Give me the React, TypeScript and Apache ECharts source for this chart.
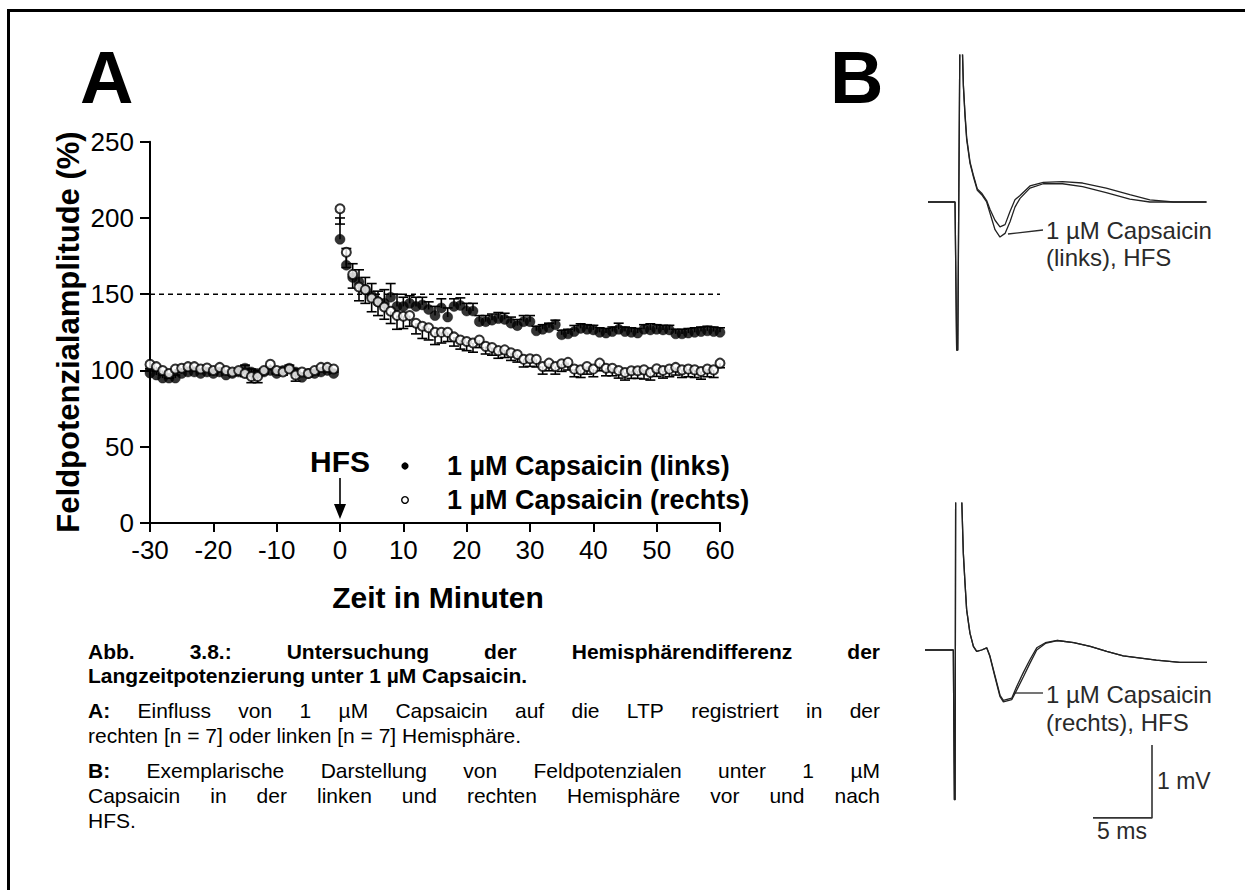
import React, { useEffect, useRef } from "react";
import * as echarts from "echarts";

// ---------------- Panel A data ----------------
const timePre = [-30, -29, -28, -27, -26, -25, -24, -23, -22, -21, -20, -19, -18, -17, -16, -15, -14, -13, -12, -11, -10, -9, -8, -7, -6, -5, -4, -3, -2, -1];
const timePost = [0, 1, 2, 3, 4, 5, 6, 7, 8, 9, 10, 11, 12, 13, 14, 15, 16, 17, 18, 19, 20, 21, 22, 23, 24, 25, 26, 27, 28, 29, 30, 31, 32, 33, 34, 35, 36, 37, 38, 39, 40, 41, 42, 43, 44, 45, 46, 47, 48, 49, 50, 51, 52, 53, 54, 55, 56, 57, 58, 59, 60];

const linksPre = [98.3, 97, 95, 95, 95, 98, 99, 99, 98, 99, 98, 99, 97, 98, 99, 101.5, 99, 98, 99, 100, 98, 100, 101.5, 99, 95.5, 98, 98, 99, 100, 98];
const linksPreErr = [3, 3, 3, 2, 2, 2, 2, 2, 2, 2, 2, 2, 2, 2, 2, 2, 2, 2, 2, 2, 2, 2, 2, 2, 2, 2, 2, 2, 2, 2];
const rechtsPre = [104, 102.5, 100, 98, 101, 101.5, 102.5, 102.5, 101, 101.6, 100, 102, 100, 99, 100, 98, 96, 96, 100, 104, 100, 99, 101, 97, 99, 98, 100, 102, 102, 101];
const rechtsPreErr = [3, 3, 3, 3, 2, 2, 2, 2, 2, 2, 2, 2, 2, 2, 2, 2, 4, 4, 2, 2, 2, 2, 2, 4, 2, 2, 2, 2, 2, 2];

const linksPost = [186, 169, 161, 158, 153, 149, 145, 144, 148, 142, 142, 144, 142, 143, 140, 136, 141, 135, 142, 142.6, 139, 139, 132, 132, 133, 134, 133.5, 131, 129.4, 132, 132, 126, 127, 128, 130, 123.4, 124, 125.5, 127.6, 127, 126.6, 125, 124.5, 125.5, 127, 125.5, 125, 124.5, 127, 126.6, 127, 126.6, 126.6, 124, 124, 124.5, 125, 125.5, 126, 125.5, 125];
const linksPostErr = [14, 11, 9, 8, 8, 8, 7, 9, 9, 8, 6, 5, 6, 5, 5, 6, 6, 6, 5, 5, 5, 5, 4, 4, 4, 4, 4, 4, 4, 4, 4, 3, 3, 3, 3, 3, 3, 4, 3, 3, 3, 3, 3, 3, 4, 3, 3, 3, 3, 4, 3, 3, 3, 3, 3, 3, 3, 3, 3, 3, 3];
const rechtsPost = [206, 177.5, 163, 154.7, 153, 147.5, 145, 141.6, 138.8, 136, 135.5, 136, 131, 129, 128, 125, 125, 125, 122, 120, 119, 118, 120, 115.8, 115, 113, 113.5, 111.6, 110.5, 107.3, 107.7, 107.3, 102.6, 104.8, 102.6, 104.4, 105.3, 100.9, 100.4, 102.6, 100.9, 104.8, 101.5, 101.5, 100, 98.7, 99.8, 99.8, 100.4, 98.7, 101.1, 100, 100.9, 102, 100.4, 100.9, 100.4, 99.3, 100.9, 100.4, 104.8];
const rechtsPostErr = [10, 10, 9, 9, 9, 9, 9, 8, 8, 9, 8, 7, 7, 8, 8, 8, 7, 6, 6, 6, 6, 6, 5, 5, 5, 5, 5, 5, 5, 5, 5, 5, 5, 5, 5, 5, 5, 5, 5, 5, 5, 5, 5, 5, 5, 5, 5, 5, 6, 5, 5, 5, 5, 5, 5, 5, 5, 5, 5, 5, 3];

const thresholdLevel = 150;
const hfsTime = 0;
const xTickLabels = ["-30", "-20", "-10", "0", "10", "20", "30", "40", "50", "60"];
const yTickLabels = ["0", "50", "100", "150", "200", "250"];

// ---------------- Panel B data (ms / mV) ----------------
const topTime = [0, 2.29, 2.43, 2.52, 2.71, 2.86, 3.0, 3.14, 3.28, 3.56, 3.84, 4.18, 4.55, 4.97, 5.25, 5.68, 6.1, 6.53, 6.95, 7.37, 7.8, 8.64, 9.77, 11.4, 13.1, 15.1, 17.1, 18.8, 20.8, 23.6];
const topHFS = [0, 0, -2.03, -2.03, 2.4, 2.4, 1.58, 1.17, 0.85, 0.53, 0.35, 0.16, 0.1, 0.0, -0.15, -0.38, -0.48, -0.43, -0.27, -0.07, 0.05, 0.19, 0.25, 0.25, 0.21, 0.13, 0.04, 0, 0, 0];
const topControl = [0, 0, -2.03, -2.03, 2.4, 2.4, 1.6, 1.2, 0.88, 0.55, 0.37, 0.18, 0.12, 0.02, -0.1, -0.25, -0.34, -0.31, -0.13, 0.03, 0.09, 0.22, 0.27, 0.28, 0.26, 0.19, 0.1, 0.03, 0, 0];

const bottomTime = [0, 2.4, 2.49, 2.55, 2.6, 3.05, 3.25, 3.39, 3.53, 3.81, 4.1, 4.38, 4.8, 5.23, 5.5, 5.93, 6.36, 6.64, 7.35, 7.77, 8.33, 8.9, 9.47, 10.2, 11.2, 12.6, 14.0, 15.4, 16.8, 19.6, 21.6, 23.9];
const bottomHFS = [0, 0, -2.05, -2.05, 2.4, 2.4, 1.32, 0.92, 0.55, 0.23, 0.05, -0.02, 0, 0.03, -0.09, -0.37, -0.64, -0.71, -0.68, -0.55, -0.37, -0.18, 0, 0.09, 0.13, 0.1, 0.05, -0.02, -0.08, -0.14, -0.17, -0.17];
const bottomControl = [0, 0, -2.05, -2.05, 2.4, 2.4, 1.32, 0.92, 0.55, 0.23, 0.05, -0.02, 0, 0.03, -0.08, -0.35, -0.62, -0.69, -0.66, -0.5, -0.31, -0.13, 0.03, 0.1, 0.13, 0.1, 0.05, -0.02, -0.08, -0.14, -0.17, -0.17];

const scaleBarMs = 5;
const scaleBarMv = 1;

// ---------------- Texts ----------------
const seriesNames = ["1 µM Capsaicin (links)", "1 µM Capsaicin (rechts)"];
const yTitle = "Feldpotenzialamplitude (%)";
const xTitle = "Zeit in Minuten";
const traceLabelTop = ["1 µM Capsaicin", "(links), HFS"];
const traceLabelBottom = ["1 µM Capsaicin", "(rechts), HFS"];
// each caption line: list of [word, bold]
const captionLines: [string, boolean][][] = [
  [["Abb.", true], ["3.8.:", true], ["Untersuchung", true], ["der", true], ["Hemisphärendifferenz", true], ["der", true]],
  [["Langzeitpotenzierung", true], ["unter", true], ["1", true], ["µM", true], ["Capsaicin.", true]],
  [["A:", true], ["Einfluss", false], ["von", false], ["1", false], ["µM", false], ["Capsaicin", false], ["auf", false], ["die", false], ["LTP", false], ["registriert", false], ["in", false], ["der", false]],
  [["rechten", false], ["[n", false], ["=", false], ["7]", false], ["oder", false], ["linken", false], ["[n", false], ["=", false], ["7]", false], ["Hemisphäre.", false]],
  [["B:", true], ["Exemplarische", false], ["Darstellung", false], ["von", false], ["Feldpotenzialen", false], ["unter", false], ["1", false], ["µM", false]],
  [["Capsaicin", false], ["in", false], ["der", false], ["linken", false], ["und", false], ["rechten", false], ["Hemisphäre", false], ["vor", false], ["und", false], ["nach", false]],
  [["HFS.", false]],
];
const captionJustified = [true, false, true, false, true, true, false];

// ---------------- Layout ----------------
const FONT = '"Liberation Sans", Arial, Helvetica, sans-serif';
const GRID_A = { left: 150, top: 141.7, width: 570, height: 381.3 };
const PX_PER_MS = 11.8;
const PX_PER_MV = 73;
const TOP_TRACE = { x0: 928, base: 202, yMin: -2.1, yMax: 2.01 };
const BOT_TRACE = { x0: 925, base: 650, yMin: -2.4, yMax: 2.01 };
const TRACE_MS = 24;
const CAPTION = { left: 88, right: 880, y: [651, 675, 710, 735, 770, 795, 820], size: 21 };

function zip(a: number[], b: number[]) {
  return a.map((v, i) => [v, b[i]]);
}
function zip3(a: number[], b: number[], c: number[]) {
  return a.map((v, i) => [v, b[i], c[i]]);
}

function makeErrorRender(dir: number) {
  return function (params: any, api: any) {
    const x = api.value(0);
    const y = api.value(1);
    const e = api.value(2);
    const p0 = api.coord([x, y]);
    const p1 = api.coord([x, y + dir * e]);
    const hw = 5;
    const st = { stroke: "#000", lineWidth: 1.6 };
    return {
      type: "group",
      children: [
        { type: "line", shape: { x1: p0[0], y1: p0[1], x2: p1[0], y2: p1[1] }, style: st },
        { type: "line", shape: { x1: p1[0] - hw, y1: p1[1], x2: p1[0] + hw, y2: p1[1] }, style: st },
      ],
    };
  };
}

function txt(x: number, y: number, text: string, size: number, bold: boolean, align = "left", extra: any = {}) {
  return {
    type: "text",
    x,
    y,
    silent: true,
    ...extra,
    style: {
      text,
      fontSize: size,
      fontWeight: bold ? "bold" : "normal",
      fontFamily: FONT,
      fill: extra.fill || "#000",
      align,
      textAlign: align,
      verticalAlign: "middle",
      textVerticalAlign: "middle",
    },
  };
}

export default function App() {
  const ref = useRef<HTMLDivElement>(null);

  useEffect(() => {
    if (!ref.current) return;
    const chart = echarts.init(ref.current, undefined, { renderer: "svg" });

    const canvas = document.createElement("canvas");
    const ctx = canvas.getContext("2d")!;
    const measure = (t: string, bold: boolean, size: number) => {
      ctx.font = `${bold ? "bold " : ""}${size}px ${FONT}`;
      return ctx.measureText(t).width;
    };

    const graphics: any[] = [];
    // frame (top and left edges)
    graphics.push({ type: "rect", shape: { x: 7, y: 9, width: 1238, height: 3 }, style: { fill: "#000" }, silent: true });
    graphics.push({ type: "rect", shape: { x: 7, y: 9, width: 3, height: 881 }, style: { fill: "#000" }, silent: true });

    // panel letters
    graphics.push(txt(80, 77, "A", 74, true));
    graphics.push(txt(830, 77, "B", 74, true));

    // axis titles
    graphics.push(txt(68, 332, yTitle, 31, true, "center", { rotation: Math.PI / 2 }));
    graphics.push(txt(438, 597, xTitle, 30, true, "center"));

    // HFS arrow
    const hfsX = GRID_A.left + ((hfsTime + 30) / 90) * GRID_A.width;
    graphics.push(txt(hfsX, 461, "HFS", 30, true, "center"));
    graphics.push({ type: "line", shape: { x1: hfsX, y1: 478, x2: hfsX, y2: 508 }, style: { stroke: "#000", lineWidth: 1.6 }, silent: true });
    graphics.push({ type: "polygon", shape: { points: [[hfsX - 6, 504], [hfsX + 6, 504], [hfsX, 519]] }, style: { fill: "#000" }, silent: true });

    // legend
    graphics.push({ type: "circle", shape: { cx: 405, cy: 466, r: 3.6 }, style: { fill: "#000" }, silent: true });
    graphics.push(txt(447, 466, seriesNames[0], 27, true));
    graphics.push({ type: "circle", shape: { cx: 405, cy: 500, r: 3.3 }, style: { fill: "#fff", stroke: "#000", lineWidth: 1.4 }, silent: true });
    graphics.push(txt(447, 500, seriesNames[1], 27, true));

    // trace labels
    const tcol = "#2a2a2a";
    graphics.push({ type: "line", shape: { x1: 1008, y1: 234, x2: 1043, y2: 230 }, style: { stroke: tcol, lineWidth: 1.3 }, silent: true });
    graphics.push(txt(1046, 230, traceLabelTop[0], 24, false, "left", { fill: tcol }));
    graphics.push(txt(1046, 257, traceLabelTop[1], 24, false, "left", { fill: tcol }));
    graphics.push({ type: "line", shape: { x1: 1014, y1: 693, x2: 1043, y2: 693 }, style: { stroke: tcol, lineWidth: 1.3 }, silent: true });
    graphics.push(txt(1046, 694, traceLabelBottom[0], 24, false, "left", { fill: tcol }));
    graphics.push(txt(1046, 722, traceLabelBottom[1], 24, false, "left", { fill: tcol }));
    graphics.push(txt(1157, 781, `${scaleBarMv} mV`, 23, false, "left", { fill: tcol }));
    graphics.push(txt(1122, 831, `${scaleBarMs} ms`, 23, false, "center", { fill: tcol }));

    // caption (justified)
    captionLines.forEach((words, i) => {
      const widths = words.map(([w, b]) => measure(w, b, CAPTION.size));
      const total = widths.reduce((s, v) => s + v, 0);
      let gap = measure(" ", false, CAPTION.size);
      if (captionJustified[i] && words.length > 1) gap = (CAPTION.right - CAPTION.left - total) / (words.length - 1);
      let x = CAPTION.left;
      words.forEach(([w, b], j) => {
        graphics.push(txt(x, CAPTION.y[i], w, CAPTION.size, b));
        x += widths[j] + gap;
      });
    });

    const axisStyle = { lineStyle: { color: "#000", width: 2 } };
    const labelStyle = { color: "#000", fontSize: 26, fontFamily: FONT };

    // scale bar in bottom-trace data coordinates
    const sbX1 = (1152 - BOT_TRACE.x0) / PX_PER_MS;
    const sbY0 = -2.3;
    const scaleBar = [
      [sbX1 - scaleBarMs, sbY0],
      [sbX1, sbY0],
      [sbX1, sbY0 + scaleBarMv],
    ];

    const traceLine = { color: "#222", width: 1.3 };

    const option: any = {
      animation: false,
      backgroundColor: "#fff",
      grid: [
        { ...GRID_A, containLabel: false },
        {
          left: TOP_TRACE.x0,
          top: TOP_TRACE.base - TOP_TRACE.yMax * PX_PER_MV,
          width: TRACE_MS * PX_PER_MS,
          height: (TOP_TRACE.yMax - TOP_TRACE.yMin) * PX_PER_MV,
        },
        {
          left: BOT_TRACE.x0,
          top: BOT_TRACE.base - BOT_TRACE.yMax * PX_PER_MV,
          width: TRACE_MS * PX_PER_MS,
          height: (BOT_TRACE.yMax - BOT_TRACE.yMin) * PX_PER_MV,
        },
      ],
      xAxis: [
        {
          gridIndex: 0,
          type: "value",
          min: -30,
          max: 60,
          interval: 10,
          axisLine: { show: true, onZero: false, ...axisStyle },
          axisTick: { show: true, inside: false, length: 9, ...axisStyle },
          axisLabel: {
            ...labelStyle,
            margin: 14,
            formatter: (v: number) => xTickLabels[Math.round((v + 30) / 10)] ?? String(v),
          },
          splitLine: { show: false },
        },
        { gridIndex: 1, type: "value", min: 0, max: TRACE_MS, show: false },
        { gridIndex: 2, type: "value", min: 0, max: TRACE_MS, show: false },
      ],
      yAxis: [
        {
          gridIndex: 0,
          type: "value",
          min: 0,
          max: 250,
          interval: 50,
          axisLine: { show: true, onZero: false, ...axisStyle },
          axisTick: { show: true, inside: false, length: 10, ...axisStyle },
          axisLabel: {
            ...labelStyle,
            margin: 16,
            formatter: (v: number) => yTickLabels[Math.round(v / 50)] ?? String(v),
          },
          splitLine: { show: false },
        },
        { gridIndex: 1, type: "value", min: TOP_TRACE.yMin, max: TOP_TRACE.yMax, show: false },
        { gridIndex: 2, type: "value", min: BOT_TRACE.yMin, max: BOT_TRACE.yMax, show: false },
      ],
      graphic: graphics,
      series: [
        {
          name: "threshold",
          type: "line",
          xAxisIndex: 0,
          yAxisIndex: 0,
          data: [[-30, thresholdLevel], [60, thresholdLevel]],
          symbol: "none",
          lineStyle: { color: "#000", width: 1.5, type: [5, 4] },
          silent: true,
          z: 1,
        },
        {
          name: seriesNames[0] + " SEM",
          type: "custom",
          xAxisIndex: 0,
          yAxisIndex: 0,
          renderItem: makeErrorRender(1),
          data: [...zip3(timePre, linksPre, linksPreErr), ...zip3(timePost, linksPost, linksPostErr)],
          z: 2,
        },
        {
          name: seriesNames[1] + " SEM",
          type: "custom",
          xAxisIndex: 0,
          yAxisIndex: 0,
          renderItem: makeErrorRender(-1),
          data: [...zip3(timePre, rechtsPre, rechtsPreErr), ...zip3(timePost, rechtsPost, rechtsPostErr)],
          z: 2,
        },
        {
          name: seriesNames[0],
          type: "scatter",
          xAxisIndex: 0,
          yAxisIndex: 0,
          symbol: "circle",
          symbolSize: 10,
          itemStyle: { color: "#000", borderColor: "#000", borderWidth: 0.5 },
          data: [...zip(timePre, linksPre), ...zip(timePost, linksPost)],
          z: 3,
        },
        {
          name: seriesNames[1],
          type: "scatter",
          xAxisIndex: 0,
          yAxisIndex: 0,
          symbol: "circle",
          symbolSize: 9,
          itemStyle: { color: "#fff", borderColor: "#000", borderWidth: 2 },
          data: [...zip(timePre, rechtsPre), ...zip(timePost, rechtsPost)],
          z: 4,
        },
        {
          name: "links control",
          type: "line",
          xAxisIndex: 1,
          yAxisIndex: 1,
          data: zip(topTime, topControl),
          symbol: "none",
          clip: true,
          lineStyle: traceLine,
        },
        {
          name: "links HFS",
          type: "line",
          xAxisIndex: 1,
          yAxisIndex: 1,
          data: zip(topTime, topHFS),
          symbol: "none",
          clip: true,
          lineStyle: traceLine,
        },
        {
          name: "rechts control",
          type: "line",
          xAxisIndex: 2,
          yAxisIndex: 2,
          data: zip(bottomTime, bottomControl),
          symbol: "none",
          clip: true,
          lineStyle: traceLine,
        },
        {
          name: "rechts HFS",
          type: "line",
          xAxisIndex: 2,
          yAxisIndex: 2,
          data: zip(bottomTime, bottomHFS),
          symbol: "none",
          clip: true,
          lineStyle: traceLine,
        },
        {
          name: "scale bar",
          type: "line",
          xAxisIndex: 2,
          yAxisIndex: 2,
          data: scaleBar,
          symbol: "none",
          clip: false,
          lineStyle: { color: "#333", width: 1.6 },
        },
      ],
    };

    chart.setOption(option);
    return () => chart.dispose();
  }, []);

  return (
    <div
      ref={ref}
      style={{ position: "fixed", left: 0, top: 0, width: 1245, height: 890, background: "#fff" }}
    />
  );
}
